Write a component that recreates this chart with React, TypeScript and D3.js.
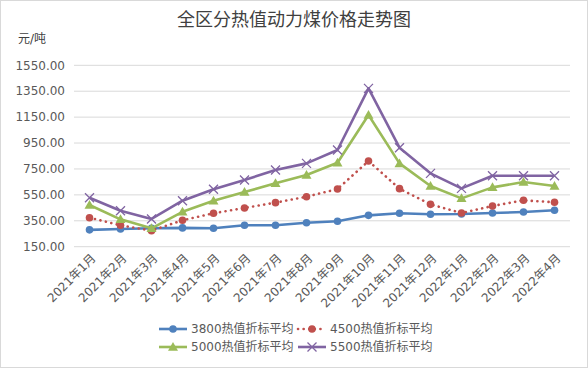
import React from 'react';
import * as d3 from 'd3';

const months = ['2021年1月', '2021年2月', '2021年3月', '2021年4月', '2021年5月', '2021年6月', '2021年7月', '2021年8月',
  '2021年9月', '2021年10月', '2021年11月', '2021年12月', '2022年1月', '2022年2月', '2022年3月', '2022年4月'];
const s3800 = [280, 287, 292, 295, 292, 315, 315, 335, 346, 392, 408, 400, 402, 410, 418, 431];
const s4500 = [374, 315, 274, 354, 408, 449, 490, 536, 595, 811, 598, 477, 410, 464, 508, 493];
const s5000 = [472, 361, 292, 419, 505, 572, 639, 703, 798, 1166, 793, 618, 523, 608, 649, 618];
const s5500 = [528, 428, 364, 505, 593, 665, 742, 793, 896, 1372, 914, 716, 600, 698, 698, 698];
const yTicks = [150, 350, 550, 750, 950, 1150, 1350, 1550];

const series = [
  { name: '3800热值折标平均', values: s3800, color: '#4F81BD', marker: 'circle', dash: '' },
  { name: '4500热值折标平均', values: s4500, color: '#C0504D', marker: 'circle', dash: '0.1 5.5' },
  { name: '5000热值折标平均', values: s5000, color: '#9BBB59', marker: 'triangle', dash: '' },
  { name: '5500热值折标平均', values: s5500, color: '#8064A2', marker: 'cross', dash: '' },
];

const W = 588, H = 368;
const font = '"DejaVu Sans", "Noto Sans CJK SC", sans-serif';

function Marker({ type, x, y, color }: { type: string; x: number; y: number; color: string }) {
  if (type === 'circle') return <circle cx={x} cy={y} r={3.8} fill={color} />;
  if (type === 'triangle') {
    const s = 5;
    return <path d={`M${x},${y - s}L${x + s},${y + s * 0.75}L${x - s},${y + s * 0.75}Z`} fill={color} />;
  }
  const s = 4.5;
  return <path d={`M${x - s},${y - s}L${x + s},${y + s}M${x - s},${y + s}L${x + s},${y - s}`} stroke={color} strokeWidth={1.3} />;
}

export default function App() {
  const x = d3.scaleBand().domain(months).range([74, 570]);
  const y = d3.scaleLinear().domain([150, 1550]).range([246.7, 65.3]);
  const cx = (m: string) => (x(m) as number) + x.bandwidth() / 2;
  const line = d3.line<number>().x((_, i) => cx(months[i])).y(d => y(d));

  return (
    <svg width={W} height={H} style={{ position: 'absolute', left: 0, top: 0, fontFamily: font }}>
      <rect x={0.5} y={0.5} width={W - 1} height={H - 1} fill="#fff" stroke="#D9D9D9" />
      <text x={294} y={26} textAnchor="middle" fontSize={18} fill="#404040">全区分热值动力煤价格走势图</text>
      <text x={18} y={43} fontSize={12} fill="#404040">元/吨</text>
      {yTicks.map(t => (
        <g key={t}>
          <line x1={74} x2={570} y1={y(t)} y2={y(t)} stroke="#D9D9D9" />
          <text x={65} y={y(t)} dy="0.35em" textAnchor="end" fontSize={12} fill="#595959">{t.toFixed(2)}</text>
        </g>
      ))}
      {months.map(m => (
        <text key={m} transform={`translate(${cx(m) + 4},${256}) rotate(-45)`} textAnchor="end" fontSize={12} dy="0.35em" fill="#595959">{m}</text>
      ))}
      {series.map(s => (
        <g key={s.name}>
          <path d={line(s.values) || ''} fill="none" stroke={s.color} strokeWidth={2.6}
            strokeDasharray={s.dash || undefined} strokeLinecap={s.dash ? 'round' : 'butt'} strokeLinejoin="round" />
          {s.values.map((v, i) => <Marker key={i} type={s.marker} x={cx(months[i])} y={y(v)} color={s.color} />)}
        </g>
      ))}
      {series.map((s, i) => {
        const lx = i % 2 === 0 ? 159 : 298;
        const ly = i < 2 ? 329 : 347;
        return (
          <g key={s.name}>
            <line x1={lx} x2={lx + 28} y1={ly} y2={ly} stroke={s.color} strokeWidth={2.6}
              strokeDasharray={s.dash || undefined} strokeLinecap={s.dash ? 'round' : 'butt'} />
            <Marker type={s.marker} x={lx + 14} y={ly} color={s.color} />
            <text x={lx + 32} y={ly} dy="0.35em" fontSize={12} fill="#595959">{s.name}</text>
          </g>
        );
      })}
    </svg>
  );
}
